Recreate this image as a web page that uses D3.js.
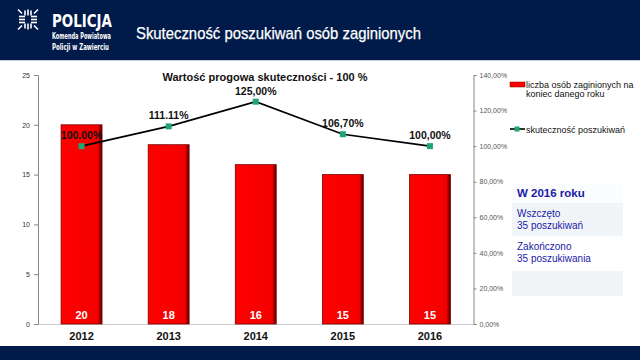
<!DOCTYPE html>
<html><head><meta charset="utf-8">
<script src="https://cdn.jsdelivr.net/npm/d3@7"></script>
<style>body{margin:0;background:#fff}svg{display:block}</style>
</head><body>
<svg id="c" width="640" height="360"></svg>
<script>
const years = ["2012","2013","2014","2015","2016"];
const missing = [20, 18, 16, 15, 15];
const efficiency = [100, 111.11, 125, 106.7, 100];
const effLabels = ["100.00%","111.11%","125,00%","106,70%","100,00%"];
const leftTicks = [0,5,10,15,20,25];
const rightTicks = [0,20,40,60,80,100,120,140];
const rightTickLabels = ["0,00%","20,00%","40,00%","60,00%","80,00%","100,00%","120,00%","140,00%"];
const infoRows = [["W 2016 roku"],["Wszczęto","35 poszukiwań"],["Zakończono","35 poszukiwania"],[]];

const svg = d3.select("#c");
const navy = "#001a4a";
const F = "Liberation Sans, Arial, sans-serif";

// header
svg.append("rect").attr("x",0).attr("y",0).attr("width",640).attr("height",60).attr("fill",navy);
svg.append("rect").attr("x",0).attr("y",60).attr("width",640).attr("height",1).attr("fill","#c9d0dc");
svg.append("rect").attr("x",0).attr("y",346).attr("width",640).attr("height",14).attr("fill",navy);

// logo emblem
const lg = svg.append("g").attr("transform","translate(28,19.5)").attr("stroke","#fff").attr("stroke-width",1.6);
[[-9,-3,-3,-3],[-9,0,-3,0],[-9,3,-3,3],[3,-3,9,-3],[3,0,9,0],[3,3,9,3],
 [-3,-9,-3,-4],[0,-10,0,-4],[3,-9,3,-4],[-3,4,-3,9],[0,4,0,10],[3,4,3,9],
 [-10,-10,-6,-6],[10,-10,6,-6],[-10,10,-6,6],[10,10,6,6]].forEach(d=>{
  lg.append("line").attr("x1",d[0]).attr("y1",d[1]).attr("x2",d[2]).attr("y2",d[3]);
});
const HF = "Liberation Sans Narrow, DejaVu Sans Condensed, "+F;
svg.append("text").attr("x",52).attr("y",27).attr("fill","#fff").attr("font-family",HF).attr("font-weight","bold").attr("font-size",17.5).attr("textLength",60).attr("lengthAdjust","spacingAndGlyphs").text("POLICJA");
svg.append("text").attr("x",52).attr("y",38.5).attr("fill","#fff").attr("font-family",HF).attr("font-weight","bold").attr("font-size",8).attr("textLength",59).attr("lengthAdjust","spacingAndGlyphs").text("Komenda Powiatowa");
svg.append("text").attr("x",52).attr("y",49.5).attr("fill","#fff").attr("font-family",HF).attr("font-weight","bold").attr("font-size",8).attr("textLength",57).attr("lengthAdjust","spacingAndGlyphs").text("Policji w Zawierciu");
svg.append("text").attr("x",136).attr("y",39).attr("fill","#fff").attr("font-family",F).attr("font-size",17).attr("stroke","#fff").attr("stroke-width",0.25).attr("textLength",285).attr("lengthAdjust","spacingAndGlyphs").text("Skuteczność poszukiwań osób zaginionych");

// scales
const x = d3.scaleBand().domain(years).range([38,473.5]).paddingInner(0.53).paddingOuter(0.265);
const y = d3.scaleLinear().domain([0,25]).range([324,75]);
const y2 = d3.scaleLinear().domain([0,140]).range([324,75]);

const defs = svg.append("defs");
const gr = defs.append("linearGradient").attr("id","bg").attr("x1",0).attr("x2",1).attr("y1",0).attr("y2",0);
gr.append("stop").attr("offset","0%").attr("stop-color","#ff0000");
gr.append("stop").attr("offset","90%").attr("stop-color","#f40000");
gr.append("stop").attr("offset","100%").attr("stop-color","#500000");

// bottom baseline
svg.append("line").attr("x1",38).attr("x2",473.5).attr("y1",324.5).attr("y2",324.5).attr("stroke","#ccc");

// bars
svg.selectAll("rect.bar").data(years).enter().append("rect").attr("class","bar")
  .attr("x",d=>x(d)).attr("width",x.bandwidth())
  .attr("y",(d,i)=>y(missing[i])).attr("height",(d,i)=>y(0)-y(missing[i]))
  .attr("fill","url(#bg)").attr("stroke","#7a0000").attr("stroke-width",0.8);
svg.selectAll("text.bl").data(years).enter().append("text").attr("class","bl")
  .attr("x",d=>x(d)+x.bandwidth()/2).attr("y",319).attr("text-anchor","middle")
  .attr("fill","#fff").attr("font-family",F).attr("font-weight","bold").attr("font-size",11)
  .text((d,i)=>missing[i]);

// axes
const la = svg.append("g").attr("transform","translate(38,0)")
  .call(d3.axisLeft(y).tickValues(leftTicks).tickSize(4).tickPadding(4));
la.select(".domain").attr("stroke","#888");
la.selectAll(".tick line").attr("stroke","#888");
la.selectAll("text").attr("font-family",F).attr("font-size",7).attr("fill","#333");

const ra = svg.append("g").attr("transform","translate(473.5,0)")
  .call(d3.axisRight(y2).tickValues(rightTicks).tickSize(3).tickPadding(3).tickFormat((d,i)=>rightTickLabels[i]));
ra.select(".domain").attr("stroke","#888");
ra.selectAll(".tick line").attr("stroke","#888");
ra.selectAll("text").attr("font-family",F).attr("font-size",7).attr("fill","#555");

const xa = svg.append("g").attr("transform","translate(0,324)")
  .call(d3.axisBottom(x).tickSize(0).tickPadding(8));
xa.select(".domain").remove();
xa.selectAll("text").attr("font-family",F).attr("font-weight","bold").attr("font-size",11).attr("fill","#111");

// line
const line = d3.line().x((d,i)=>x(years[i])+x.bandwidth()/2).y(d=>y2(d));
svg.append("path").datum(efficiency).attr("d",line).attr("fill","none").attr("stroke","#000").attr("stroke-width",1.6);
svg.selectAll("rect.mk").data(efficiency).enter().append("rect").attr("class","mk")
  .attr("x",(d,i)=>x(years[i])+x.bandwidth()/2-3).attr("y",d=>y2(d)-3).attr("width",6).attr("height",6)
  .attr("fill","#1ea672");
svg.selectAll("text.el").data(efficiency).enter().append("text").attr("class","el")
  .attr("x",(d,i)=>x(years[i])+x.bandwidth()/2).attr("y",d=>y2(d)-7)
  .attr("text-anchor","middle").attr("font-family",F).attr("font-weight","bold").attr("font-size",10.5).attr("fill","#111")
  .text((d,i)=>effLabels[i]);

svg.append("text").attr("x",265).attr("y",81).attr("text-anchor","middle").attr("font-family",F).attr("font-weight","bold").attr("font-size",11).attr("fill","#111")
  .text("Wartość progowa skuteczności - 100 %");

// legend
svg.append("rect").attr("x",510).attr("y",82).attr("width",15).attr("height",5).attr("fill","#f00").attr("stroke","#700").attr("stroke-width",0.5);
svg.append("text").attr("x",526).attr("y",87.5).attr("font-family",F).attr("font-size",9).attr("fill","#111").text("liczba osób zaginionych na");
svg.append("text").attr("x",526).attr("y",97).attr("font-family",F).attr("font-size",9).attr("fill","#111").text("koniec danego roku");
svg.append("line").attr("x1",510).attr("x2",525).attr("y1",129).attr("y2",129).attr("stroke","#000").attr("stroke-width",1.6);
svg.append("rect").attr("x",514.5).attr("y",126.5).attr("width",5).attr("height",5).attr("fill","#1ea672");
svg.append("text").attr("x",526).attr("y",132.5).attr("font-family",F).attr("font-size",9).attr("fill","#111").text("skuteczność poszukiwań");

// info box
const rowY = [184, 203, 236, 271, 296];
const rowFill = ["#fbfcfd","#f2f5f8","#ffffff","#f2f5f8"];
infoRows.forEach((r,i)=>{
  svg.append("rect").attr("x",512).attr("y",rowY[i]).attr("width",111).attr("height",rowY[i+1]-rowY[i]).attr("fill",rowFill[i]);
  r.forEach((t,j)=>{
    svg.append("text").attr("x",517).attr("y",i===0?197:rowY[i]+13.5+j*12)
      .attr("font-family",F).attr("font-size",i===0?11.5:10).attr("font-weight",i===0?"bold":"normal")
      .attr("fill","#1a1aa8").text(t);
  });
});
</script>
</body></html>
